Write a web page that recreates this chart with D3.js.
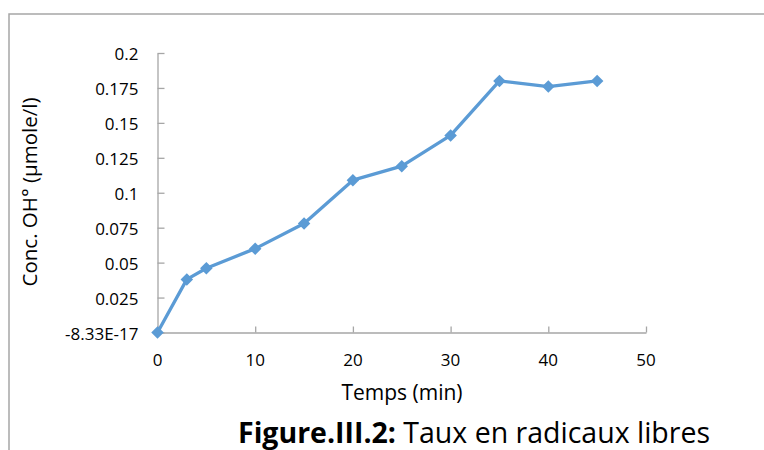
<!DOCTYPE html>
<html>
<head>
<meta charset="utf-8">
<script src="https://cdn.jsdelivr.net/npm/d3@7"></script>
<style>
  body { margin: 0; background: #fff; }
  svg { display: block; font-family: "Open Sans", Lato, sans-serif; }
</style>
</head>
<body>
<div id="chart"></div>
<script>
// data
const times = [0, 3, 5, 10, 15, 20, 25, 30, 35, 40, 45]
const concOH = [0, 0.038, 0.046, 0.06, 0.078, 0.109, 0.119, 0.141, 0.18, 0.176, 0.18]
const xTicks = [0, 10, 20, 30, 40, 50]
const yTicks = [0, 0.025, 0.05, 0.075, 0.1, 0.125, 0.15, 0.175, 0.2]
const yTickLabels = ["-8.33E-17", "0.025", "0.05", "0.075", "0.1", "0.125", "0.15", "0.175", "0.2"]

const dataset = times.map((t, i) => ({ t: t, c: concOH[i] }))
const xAccessor = d => d.t
const yAccessor = d => d.c

let dimensions = {
    width: 764,
    height: 450,
    margin: {
        top: 53,
        right: 118,
        bottom: 117.5,
        left: 157.5,
    },
}
dimensions.boundedWidth = dimensions.width
    - dimensions.margin.left
    - dimensions.margin.right
dimensions.boundedHeight = dimensions.height
    - dimensions.margin.top
    - dimensions.margin.bottom

const axisColor = "#a6a6a6"
const lineColor = "#5b9bd5"

const wrapper = d3.select("#chart")
    .append("svg")
    .attr("width", dimensions.width)
    .attr("height", dimensions.height)

// outer frame (only top and left edges visible in the crop)
wrapper.append("path")
    .attr("d", "M9,460 V14 H780")
    .attr("fill", "none")
    .attr("stroke", "#a6a6a6")
    .attr("stroke-width", 1.5)

const bounds = wrapper.append("g")
    .attr("transform", `translate(${dimensions.margin.left},${dimensions.margin.top})`)

// scales
const xScale = d3.scaleLinear()
    .domain([0, 50])
    .range([0, dimensions.boundedWidth])
const yScale = d3.scaleLinear()
    .domain([0, 0.2])
    .range([dimensions.boundedHeight, 0])

// axes (ticks point inward, labels placed by hand below)
const yAxisGenerator = d3.axisRight(yScale)
    .tickValues(yTicks)
    .tickSize(7)
    .tickSizeOuter(0)
    .tickFormat("")
const yAxis = bounds.append("g").call(yAxisGenerator)

const xAxisGenerator = d3.axisTop(xScale)
    .tickValues(xTicks)
    .tickSize(6)
    .tickSizeOuter(0)
    .tickFormat("")
const xAxis = bounds.append("g")
    .attr("transform", `translate(0,${dimensions.boundedHeight})`)
    .call(xAxisGenerator)

bounds.selectAll(".domain, .tick line")
    .attr("stroke", axisColor)
    .attr("stroke-width", 1.3)

// tick labels
bounds.selectAll(".ylab")
    .data(yTicks)
    .enter()
    .append("text")
    .attr("x", -19)
    .attr("y", d => yScale(d))
    .attr("dy", "0.42em")
    .attr("text-anchor", "end")
    .attr("font-size", 17)
    .attr("fill", "#000")
    .text((d, i) => yTickLabels[i])

bounds.selectAll(".xlab")
    .data(xTicks)
    .enter()
    .append("text")
    .attr("x", d => xScale(d))
    .attr("y", dimensions.boundedHeight + 33)
    .attr("text-anchor", "middle")
    .attr("font-size", 17)
    .attr("fill", "#000")
    .text(d => d)

// line + diamond markers
const lineGenerator = d3.line()
    .x(d => xScale(xAccessor(d)))
    .y(d => yScale(yAccessor(d)))

bounds.append("path")
    .attr("d", lineGenerator(dataset))
    .attr("fill", "none")
    .attr("stroke", lineColor)
    .attr("stroke-width", 3.3)
    .attr("stroke-linejoin", "round")

const diamond = d3.symbol().type(d3.symbolDiamond2).size(100)
bounds.selectAll(".pt")
    .data(dataset)
    .enter()
    .append("path")
    .attr("d", diamond)
    .attr("transform", d => `translate(${xScale(xAccessor(d))},${yScale(yAccessor(d))})`)
    .attr("fill", lineColor)

// axis titles
wrapper.append("text")
    .attr("transform", `translate(37,192) rotate(-90)`)
    .attr("text-anchor", "middle")
    .attr("font-size", 20.5)
    .attr("fill", "#000")
    .text("Conc. OH° (µmole/l)")

wrapper.append("text")
    .attr("x", 402)
    .attr("y", 400)
    .attr("text-anchor", "middle")
    .attr("font-size", 21)
    .attr("fill", "#000")
    .text("Temps (min)")

// caption
const caption = wrapper.append("text")
    .attr("x", 238)
    .attr("y", 443)
    .attr("font-size", 28.5)
    .attr("fill", "#000")
caption.append("tspan")
    .attr("font-weight", "bold")
    .text("Figure.III.2:")
caption.append("tspan")
    .text(" Taux en radicaux libres")
</script>
</body>
</html>
